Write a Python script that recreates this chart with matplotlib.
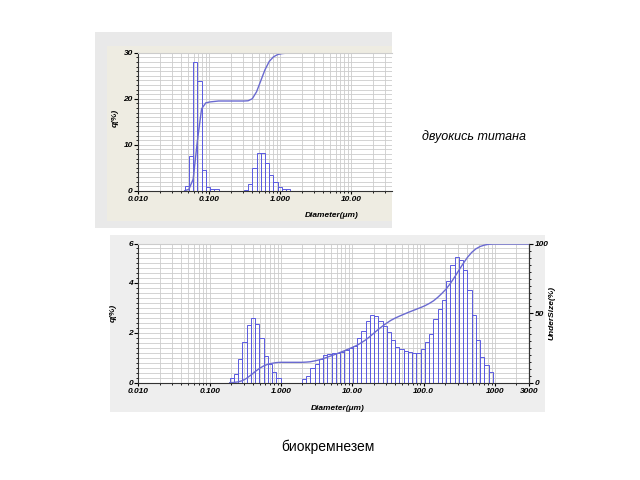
import numpy as np
import matplotlib
matplotlib.use('Agg')
from matplotlib import pyplot as plt
from matplotlib.patches import Rectangle
from matplotlib.ticker import MultipleLocator, LogLocator, NullFormatter

plt.rcParams['font.family'] = ['Liberation Sans', 'DejaVu Sans']

# size classes of the analyser: 93 log-spaced classes, 0.01 .. 3000 um
n_class = 93
ratio = (3000 / 0.01) ** (1 / (n_class - 1))

# --- top: titanium dioxide ---
tio2_first_edge = 0.045   # left edge of first class, um
tio2_q = [1.1, 7.5, 28.0, 23.9, 4.5, 0.7, 0.3, 0.3,
          0, 0, 0, 0, 0, 0,
          0.1, 1.5, 5.0, 8.2, 8.2, 6.0, 3.5, 1.8, 0.8, 0.3, 0.3]
# cumulative curve (drawn on the 0..30 scale), at right edge of each class
tio2_cum = [0.3, 2.5, 10.8, 17.8, 19.1, 19.3, 19.4, 19.5,
            19.5, 19.5, 19.5, 19.5, 19.5, 19.5,
            19.55, 20.0, 21.5, 23.9, 26.3, 28.1, 29.1, 29.6, 29.8, 29.9, 30.0]

# --- bottom: biosilica ---
bio_first_class = 22
bio_q = [0.2, 0.36, 0.96, 1.63, 2.3, 2.6, 2.33, 1.8, 1.07, 0.73, 0.43, 0.2,
         0, 0, 0, 0, 0,
         0.15, 0.27, 0.58, 0.75, 0.93, 1.1, 1.15, 1.17, 1.2, 1.24, 1.31, 1.37,
         1.48, 1.77, 2.08, 2.48, 2.71, 2.68, 2.45, 2.25, 2.03, 1.69, 1.43, 1.33,
         1.27, 1.23, 1.2, 1.2, 1.36, 1.63, 1.96, 2.53, 2.96, 3.29, 4.05, 4.69,
         5.03, 4.89, 4.49, 3.69, 2.69, 1.69, 1.03, 0.69, 0.43]
bio_cum = [0.2, 0.6, 1.5, 3.2, 5.5, 8.0, 10.3, 12.1, 13.3, 14.0, 14.5, 14.7,
           14.7, 14.7, 14.7, 14.7, 14.7,
           14.85, 15.1, 15.7, 16.4, 17.3, 18.4, 19.5, 20.6, 21.8, 23.0, 24.3, 25.6,
           27.0, 28.8, 30.8, 33.2, 35.8, 38.4, 40.8, 43.0, 45.0, 46.6, 48.0, 49.3,
           50.6, 51.8, 53.0, 54.2, 55.5, 57.1, 59.0, 61.5, 64.4, 67.6, 71.6, 76.2,
           81.1, 85.9, 90.3, 93.9, 96.5, 98.2, 99.2, 99.8, 100.0]

x_ticks = [0.01, 0.1, 1, 10, 100, 1000, 3000]
x_tick_labels = ['0.010', '0.100', '1.000', '10.00', '100.0', '1000', '3000']

bar_color = '#5a5ae0'
line_color = '#6a6ad0'
grid_color = '#cccccc'
tick_font = dict(fontsize=6, fontstyle='italic', fontweight='bold')


def style_axes(ax, xmax, n_xt):
    ax.set_xscale('log')
    ax.set_xlim(0.01, xmax)
    ax.set_xticks(x_ticks[:n_xt])
    ax.set_xticklabels(x_tick_labels[:n_xt], **tick_font)
    ax.xaxis.set_minor_locator(LogLocator(base=10, subs=np.arange(2, 10), numticks=20))
    ax.xaxis.set_minor_formatter(NullFormatter())
    ax.grid(which='both', axis='both', color=grid_color, lw=0.6)
    ax.set_axisbelow(True)
    ax.tick_params(axis='x', which='major', length=2, pad=2)
    ax.tick_params(axis='x', which='minor', length=1.5)
    ax.tick_params(axis='y', which='major', length=3, pad=1)
    ax.tick_params(axis='y', which='minor', length=1.5)
    for s in ['left', 'bottom']:
        ax.spines[s].set_color('#333333')
        ax.spines[s].set_linewidth(0.8)
    ax.spines['top'].set_color(grid_color)


fig = plt.figure(figsize=(6.4, 4.8), dpi=100)

# panel backgrounds (screenshot frames)
fig.add_artist(Rectangle((0.1484, 0.525), 0.464, 0.408, transform=fig.transFigure,
                         facecolor='#e9e9e9', edgecolor='none', zorder=0))
fig.add_artist(Rectangle((0.167, 0.5396), 0.4453, 0.3646, transform=fig.transFigure,
                         facecolor='#eeece2', edgecolor='none', zorder=0))
fig.add_artist(Rectangle((0.1719, 0.1417), 0.6797, 0.3688, transform=fig.transFigure,
                         facecolor='#eeeeee', edgecolor='none', zorder=0))

# ---------------- top chart ----------------
ax1 = fig.add_axes([0.2161, 0.6027, 0.3964, 0.2875])
edges = tio2_first_edge * ratio ** np.arange(len(tio2_q) + 1)
q = np.array(tio2_q)
m = q > 0
ax1.bar(edges[:-1][m], q[m], width=(edges[1:] - edges[:-1])[m], align='edge',
        fill=False, edgecolor=bar_color, lw=0.7)
ax1.plot(edges, [0] + tio2_cum, color=line_color, lw=1)
ax1.set_ylim(0, 30)
ax1.set_yticks([0, 10, 20, 30])
ax1.set_yticklabels(['0', '10', '20', '30'], **tick_font)
ax1.yaxis.set_minor_locator(MultipleLocator(1))
style_axes(ax1, 37.4, 4)
ax1.spines['right'].set_visible(False)
fig.text(0.18, 0.754, 'q(%)', rotation=90, ha='center', va='center', **tick_font)
fig.text(0.56, 0.552, 'Diameter(\u03bcm)', ha='right', va='center', **tick_font)

# ---------------- bottom chart ----------------
ax2 = fig.add_axes([0.2163, 0.2027, 0.6102, 0.289])
centers = 0.01 * ratio ** np.arange(bio_first_class, bio_first_class + len(bio_q))
lo = centers / np.sqrt(ratio)
hi = centers * np.sqrt(ratio)
q = np.array(bio_q)
m = q > 0
ax2.bar(lo[m], q[m], width=(hi - lo)[m], align='edge',
        fill=False, edgecolor=bar_color, lw=0.7)
top_val = 5.55
ax2.set_ylim(0, top_val)
ax2.set_yticks([0, 2, 4, top_val])
ax2.set_yticklabels(['0', '2', '4', '6'], **tick_font)
ax2.yaxis.set_minor_locator(MultipleLocator(0.2))
style_axes(ax2, 3000, 7)
ax2.spines['right'].set_color('#333333')

ax3 = ax2.twinx()
ax3.plot(np.concatenate([[lo[0]], hi, [3000]]), [0] + bio_cum + [100],
         color=line_color, lw=1)
ax3.set_ylim(0, 100)
ax3.set_yticks([0, 50, 100])
ax3.set_yticklabels(['0', '50', '100'], **tick_font)
ax3.yaxis.set_minor_locator(MultipleLocator(5))
ax3.tick_params(axis='y', which='major', length=3, pad=1)
ax3.tick_params(axis='y', which='minor', length=1.5)
for s in ['top', 'left', 'bottom']:
    ax3.spines[s].set_visible(False)
ax3.spines['right'].set_color('#333333')

fig.text(0.177, 0.348, 'q(%)', rotation=90, ha='center', va='center', **tick_font)
fig.text(0.862, 0.348, 'UnderSize(%)', rotation=90, ha='center', va='center', **tick_font)
fig.text(0.527, 0.15, 'Diameter(\u03bcm)', ha='center', va='center', **tick_font)

# captions
fig.text(0.659, 0.715, 'двуокись титана', fontsize=9, fontstyle='italic', va='center')
fig.text(0.513, 0.069, 'биокремнезем', fontsize=10, ha='center', va='center')

fig.savefig('out.png', dpi=100)
